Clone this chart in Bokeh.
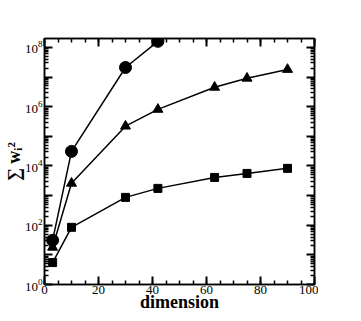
from bokeh.plotting import figure
from bokeh.models import (Range1d, FixedTicker, SingleIntervalTicker,
                          LinearAxis, LogAxis)
from bokeh.embed import file_html
from bokeh.resources import INLINE

# data
dims_circle = [3, 10, 30, 42]
vals_circle = [31, 3.1e4, 2.1e7, 1.6e8]
dims_tri = [3, 10, 30, 42, 63, 75, 90]
vals_tri = [18, 2.6e3, 2.2e5, 8.1e5, 4.5e6, 9.1e6, 1.8e7]
dims_sq = [3, 10, 30, 42, 63, 75, 90]
vals_sq = [5.5, 85, 870, 1750, 4100, 5600, 8300]

x_tick_step = 20
x_minor_per_major = 4
y_exponents = list(range(0, 9))
y_major = [10 ** e for e in y_exponents]
y_minor = [k * 10 ** e for e in y_exponents for k in range(2, 10)]

SERIF = "Liberation Serif"

p = figure(frame_width=270, frame_height=246, output_backend="svg",
           toolbar_location=None,
           y_axis_type="log", x_range=Range1d(0, 100),
           y_range=Range1d(1, 10 ** 8.3),
           min_border_left=39, min_border_right=4, min_border_top=38,
           min_border_bottom=4)
p.grid.visible = False
p.outline_line_color = "black"
p.outline_line_width = 1.5


def style(ax):
    ax.axis_line_color = "black"
    ax.axis_line_width = 1.5
    ax.major_tick_in = 8
    ax.major_tick_out = 0
    ax.minor_tick_in = 4
    ax.minor_tick_out = 0
    ax.major_tick_line_width = 2
    ax.minor_tick_line_width = 1.5
    ax.major_tick_line_color = "black"
    ax.minor_tick_line_color = "black"
    ax.major_label_text_font = SERIF
    ax.major_label_text_font_size = "13px"
    ax.major_label_text_color = "black"
    ax.axis_label_text_font = SERIF
    ax.axis_label_text_font_style = "bold"
    ax.axis_label_text_font_size = "18px"
    ax.axis_label_text_color = "black"


def xticker():
    return SingleIntervalTicker(interval=x_tick_step,
                                num_minor_ticks=x_minor_per_major)


xa = p.xaxis[0]
xa.ticker = xticker()
style(xa)
xa.major_label_standoff = 1
xa.axis_label = "dimension"
xa.axis_label_standoff = -5

ya = p.yaxis[0]
ya.ticker = FixedTicker(ticks=y_major, minor_ticks=y_minor)
style(ya)
ya.major_label_standoff = 2
ya.major_label_overrides = {10 ** e: "" for e in y_exponents if e % 2}
ya.axis_label = "\u2211 w\u1d62\u00b2"
ya.axis_label_standoff = -2

top = LinearAxis(ticker=xticker())
style(top)
top.major_label_overrides = {v: "" for v in range(0, 101, x_tick_step)}
top.major_label_standoff = 0
p.add_layout(top, "above")

right = LogAxis(ticker=FixedTicker(ticks=y_major, minor_ticks=y_minor))
style(right)
right.major_label_overrides = {v: "" for v in y_major}
right.major_label_standoff = 0
p.add_layout(right, "right")

lw = 1.5
p.line(dims_circle, vals_circle, line_color="black", line_width=lw)
p.scatter(dims_circle, vals_circle, marker="circle", size=12, color="black")
p.line(dims_tri, vals_tri, line_color="black", line_width=lw)
p.scatter(dims_tri, vals_tri, marker="triangle", size=10, color="black")
p.line(dims_sq, vals_sq, line_color="black", line_width=lw)
p.scatter(dims_sq, vals_sq, marker="square", size=8, color="black")

open("out.html", "w").write(file_html(p, INLINE))
